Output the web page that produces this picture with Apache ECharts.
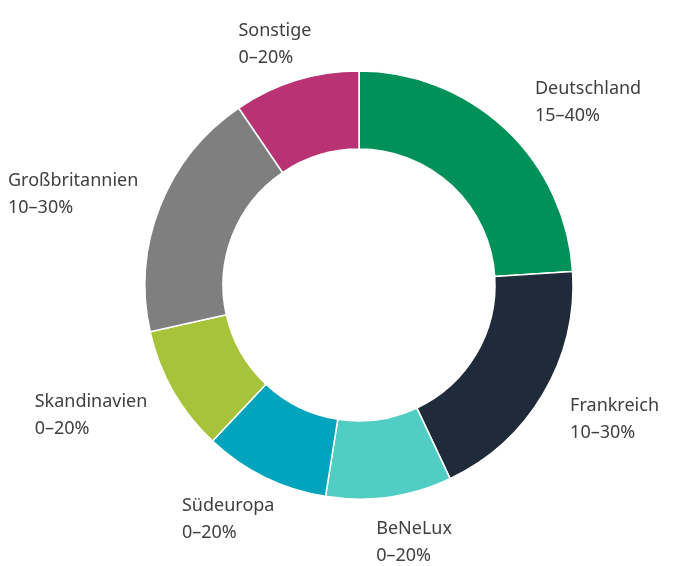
<!DOCTYPE html>
<html>
<head>
<meta charset="utf-8">
<script src="https://cdn.jsdelivr.net/npm/echarts@6/dist/echarts.min.js"></script>
<style>
  html, body { margin: 0; padding: 0; background: #fff; }
  #chart { width: 675px; height: 566px; }
</style>
</head>
<body>
<div id="chart"></div>
<script>
// Anteile (aus der Grafik geschätzt) und Spannen
var regions = ["Deutschland", "Frankreich", "BeNeLux", "Südeuropa", "Skandinavien", "Großbritannien", "Sonstige"];
var shares = [24, 19, 9.5, 9.5, 9.5, 19, 9.5];
var ranges = ["15–40%", "10–30%", "0–20%", "0–20%", "0–20%", "10–30%", "0–20%"];
var colors = ["#009159", "#1f2b3a", "#52cdc4", "#00a4bd", "#a6c33a", "#7f7f7f", "#b83274"];

var cx = 359, cy = 285;
var chartWidth = 675;
var labelFont = "18px 'Noto Sans'";

var total = shares.reduce(function (a, b) { return a + b; }, 0);
// Mittelwinkel jedes Segments (im Uhrzeigersinn ab 12 Uhr)
var midAngles = [];
var acc = 0;
for (var i = 0; i < shares.length; i++) {
  midAngles.push((acc + shares[i] / 2) / total * Math.PI * 2);
  acc += shares[i];
}

// Breite der längsten Zeile jedes Labels
var ctx = document.createElement("canvas").getContext("2d");
ctx.font = labelFont;
function blockWidth(i) {
  return Math.max(ctx.measureText(regions[i]).width, ctx.measureText(ranges[i]).width);
}

var seriesData = regions.map(function (name, i) {
  return { name: name, value: shares[i], itemStyle: { color: colors[i] } };
});

var myChart = echarts.init(document.getElementById("chart"));
var option = {
  animation: false,
  series: [
    {
      type: "pie",
      center: [cx, cy],
      radius: [136, 214],
      startAngle: 90,
      clockwise: true,
      itemStyle: {
        borderColor: "#fff",
        borderWidth: 1.5
      },
      label: {
        show: true,
        position: "outside",
        color: "#404040",
        fontFamily: "Noto Sans",
        fontSize: 18,
        lineHeight: 27,
        width: 220,
        formatter: function (p) {
          return p.name + "\n" + ranges[p.dataIndex];
        }
      },
      labelLine: { show: false },
      // Labels auf einer Ellipse um den Ring, Zeilen linksbündig
      labelLayout: function (params) {
        var i = params.dataIndex;
        var a = midAngles[i];
        var w = blockWidth(i);
        var x = cx + 10 + 320 * Math.sin(a) - w / 2;
        x = Math.max(8, Math.min(x, chartWidth - w - 16));
        return {
          x: x,
          y: cy + 4 - 256 * Math.cos(a) - 27,
          align: "left",
          verticalAlign: "top"
        };
      },
      emphasis: { disabled: true },
      data: seriesData
    }
  ]
};
myChart.setOption(option);
window.addEventListener("resize", function () {
  if (myChart) myChart.resize();
});
</script>
</body>
</html>
